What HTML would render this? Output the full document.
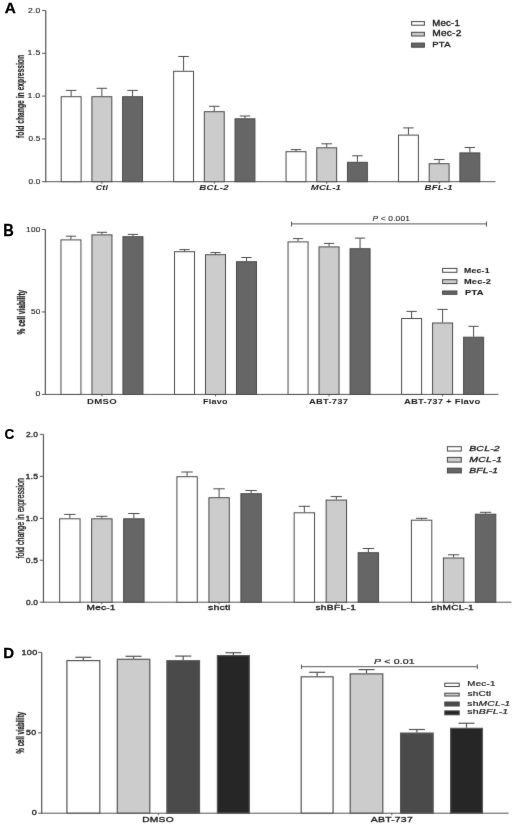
<!DOCTYPE html>
<html><head><meta charset="utf-8"><style>
html,body{margin:0;padding:0;background:#fff;}
svg{display:block;will-change:transform;}
text{font-family:"Liberation Sans",sans-serif;}
</style></head><body>
<svg width="520" height="830" viewBox="0 0 520 830">
<defs><filter id="soft" color-interpolation-filters="sRGB" filterUnits="userSpaceOnUse" x="0" y="0" width="520" height="830"><feConvolveMatrix order="3" kernelMatrix="1 12 1 12 144 12 1 12 1" divisor="196" edgeMode="duplicate"/></filter></defs>
<g>
<rect x="0" y="0" width="520" height="830" fill="#fff"/>
<line x1="45.75" y1="10.50" x2="45.75" y2="182.20" stroke="#555" stroke-width="1.2"/>
<line x1="42.05" y1="181.70" x2="45.75" y2="181.70" stroke="#555" stroke-width="1"/>
<text transform="translate(28.40,184.00) scale(1.1962510668979207,1)" x="0" y="0" font-size="6.91" font-weight="normal" font-style="normal" fill="#1a1a1a" stroke="#1a1a1a" stroke-width="0.12" textLength="9.90" lengthAdjust="spacing">0.0</text>
<line x1="42.05" y1="138.90" x2="45.75" y2="138.90" stroke="#555" stroke-width="1"/>
<text transform="translate(28.40,141.00) scale(1.194973780457581,1)" x="0" y="0" font-size="6.91" font-weight="normal" font-style="normal" fill="#1a1a1a" stroke="#1a1a1a" stroke-width="0.12" textLength="9.90" lengthAdjust="spacing">0.5</text>
<line x1="42.05" y1="96.10" x2="45.75" y2="96.10" stroke="#555" stroke-width="1"/>
<text transform="translate(27.47,98.00) scale(1.27,1)" x="0" y="0" font-size="6.91" font-weight="normal" font-style="normal" fill="#1a1a1a" stroke="#1a1a1a" stroke-width="0.12" textLength="10.07" lengthAdjust="spacing">1.0</text>
<line x1="42.05" y1="53.30" x2="45.75" y2="53.30" stroke="#555" stroke-width="1"/>
<text transform="translate(27.47,55.00) scale(1.27,1)" x="0" y="0" font-size="6.91" font-weight="normal" font-style="normal" fill="#1a1a1a" stroke="#1a1a1a" stroke-width="0.12" textLength="10.09" lengthAdjust="spacing">1.5</text>
<line x1="42.05" y1="10.50" x2="45.75" y2="10.50" stroke="#555" stroke-width="1"/>
<text transform="translate(28.04,13.00) scale(1.2388502618621602,1)" x="0" y="0" font-size="6.91" font-weight="normal" font-style="normal" fill="#1a1a1a" stroke="#1a1a1a" stroke-width="0.12" textLength="9.90" lengthAdjust="spacing">2.0</text>
<line x1="45.75" y1="181.70" x2="495.50" y2="181.70" stroke="#555" stroke-width="1"/>
<text transform="translate(24.40,137.98) rotate(-90)" x="0" y="0" font-size="10.41" font-weight="bold" fill="#1a1a1a" stroke="#1a1a1a" stroke-width="0.15" textLength="83.07" lengthAdjust="spacingAndGlyphs">fold change in expression</text>
<line x1="101.85" y1="181.70" x2="101.85" y2="183.70" stroke="#555" stroke-width="1"/>
<rect x="61.20" y="96.70" width="19.90" height="85.00" fill="#ffffff" stroke="#4a4a4a" stroke-width="1"/>
<line x1="71.15" y1="90.40" x2="71.15" y2="96.20" stroke="#4a4a4a" stroke-width="1"/>
<line x1="65.90" y1="90.40" x2="76.40" y2="90.40" stroke="#4a4a4a" stroke-width="1"/>
<rect x="91.90" y="96.70" width="19.90" height="85.00" fill="#cccccc" stroke="#4a4a4a" stroke-width="1"/>
<line x1="101.85" y1="88.30" x2="101.85" y2="96.20" stroke="#4a4a4a" stroke-width="1"/>
<line x1="96.60" y1="88.30" x2="107.10" y2="88.30" stroke="#4a4a4a" stroke-width="1"/>
<rect x="122.60" y="96.70" width="19.90" height="85.00" fill="#666666" stroke="#4a4a4a" stroke-width="1"/>
<line x1="132.55" y1="90.40" x2="132.55" y2="96.20" stroke="#4a4a4a" stroke-width="1"/>
<line x1="127.30" y1="90.40" x2="137.80" y2="90.40" stroke="#4a4a4a" stroke-width="1"/>
<line x1="214.28" y1="181.70" x2="214.28" y2="183.70" stroke="#555" stroke-width="1"/>
<rect x="173.63" y="71.30" width="19.90" height="110.40" fill="#ffffff" stroke="#4a4a4a" stroke-width="1"/>
<line x1="183.58" y1="56.50" x2="183.58" y2="70.80" stroke="#4a4a4a" stroke-width="1"/>
<line x1="178.33" y1="56.50" x2="188.83" y2="56.50" stroke="#4a4a4a" stroke-width="1"/>
<rect x="204.33" y="111.70" width="19.90" height="70.00" fill="#cccccc" stroke="#4a4a4a" stroke-width="1"/>
<line x1="214.28" y1="106.30" x2="214.28" y2="111.20" stroke="#4a4a4a" stroke-width="1"/>
<line x1="209.03" y1="106.30" x2="219.53" y2="106.30" stroke="#4a4a4a" stroke-width="1"/>
<rect x="235.03" y="118.80" width="19.90" height="62.90" fill="#666666" stroke="#4a4a4a" stroke-width="1"/>
<line x1="244.98" y1="116.00" x2="244.98" y2="118.30" stroke="#4a4a4a" stroke-width="1"/>
<line x1="239.73" y1="116.00" x2="250.23" y2="116.00" stroke="#4a4a4a" stroke-width="1"/>
<line x1="326.71" y1="181.70" x2="326.71" y2="183.70" stroke="#555" stroke-width="1"/>
<rect x="286.06" y="151.70" width="19.90" height="30.00" fill="#ffffff" stroke="#4a4a4a" stroke-width="1"/>
<line x1="296.01" y1="149.60" x2="296.01" y2="151.20" stroke="#4a4a4a" stroke-width="1"/>
<line x1="290.76" y1="149.60" x2="301.26" y2="149.60" stroke="#4a4a4a" stroke-width="1"/>
<rect x="316.76" y="147.80" width="19.90" height="33.90" fill="#cccccc" stroke="#4a4a4a" stroke-width="1"/>
<line x1="326.71" y1="143.80" x2="326.71" y2="147.30" stroke="#4a4a4a" stroke-width="1"/>
<line x1="321.46" y1="143.80" x2="331.96" y2="143.80" stroke="#4a4a4a" stroke-width="1"/>
<rect x="347.46" y="162.30" width="19.90" height="19.40" fill="#666666" stroke="#4a4a4a" stroke-width="1"/>
<line x1="357.41" y1="155.80" x2="357.41" y2="161.80" stroke="#4a4a4a" stroke-width="1"/>
<line x1="352.16" y1="155.80" x2="362.66" y2="155.80" stroke="#4a4a4a" stroke-width="1"/>
<line x1="439.14" y1="181.70" x2="439.14" y2="183.70" stroke="#555" stroke-width="1"/>
<rect x="398.49" y="135.10" width="19.90" height="46.60" fill="#ffffff" stroke="#4a4a4a" stroke-width="1"/>
<line x1="408.44" y1="127.90" x2="408.44" y2="134.60" stroke="#4a4a4a" stroke-width="1"/>
<line x1="403.19" y1="127.90" x2="413.69" y2="127.90" stroke="#4a4a4a" stroke-width="1"/>
<rect x="429.19" y="163.70" width="19.90" height="18.00" fill="#cccccc" stroke="#4a4a4a" stroke-width="1"/>
<line x1="439.14" y1="159.50" x2="439.14" y2="163.20" stroke="#4a4a4a" stroke-width="1"/>
<line x1="433.89" y1="159.50" x2="444.39" y2="159.50" stroke="#4a4a4a" stroke-width="1"/>
<rect x="459.89" y="152.90" width="19.90" height="28.80" fill="#666666" stroke="#4a4a4a" stroke-width="1"/>
<line x1="469.84" y1="147.50" x2="469.84" y2="152.40" stroke="#4a4a4a" stroke-width="1"/>
<line x1="464.59" y1="147.50" x2="475.09" y2="147.50" stroke="#4a4a4a" stroke-width="1"/>
<text transform="translate(95.79,190.00) scale(1.1247718291206472,1)" x="0" y="0" font-size="7.79" font-weight="bold" font-style="italic" fill="#1a1a1a" textLength="10.71" lengthAdjust="spacing">Ctl</text>
<text transform="translate(199.31,190.00) scale(1.2432002610410082,1)" x="0" y="0" font-size="7.79" font-weight="bold" font-style="italic" fill="#1a1a1a" textLength="23.66" lengthAdjust="spacing">BCL-2</text>
<text transform="translate(310.83,190.00) scale(1.2253199621532747,1)" x="0" y="0" font-size="7.79" font-weight="bold" font-style="italic" fill="#1a1a1a" textLength="24.55" lengthAdjust="spacing">MCL-1</text>
<text transform="translate(424.55,190.00) scale(1.2333608973604981,1)" x="0" y="0" font-size="7.79" font-weight="bold" font-style="italic" fill="#1a1a1a" textLength="22.76" lengthAdjust="spacing">BFL-1</text>
<rect x="411.60" y="21.60" width="12.80" height="3.60" fill="#ffffff" stroke="#444" stroke-width="1"/>
<text transform="translate(432.24,26.00) scale(1.1667141374728638,1)" x="0" y="0" font-size="8.24" font-weight="normal" font-style="normal" fill="#1a1a1a" stroke="#1a1a1a" stroke-width="0.35" textLength="23.59" lengthAdjust="spacing">Mec-1</text>
<rect x="411.60" y="32.30" width="12.80" height="3.70" fill="#cccccc" stroke="#444" stroke-width="1"/>
<text transform="translate(432.22,36.00) scale(1.1942400554222876,1)" x="0" y="0" font-size="8.53" font-weight="normal" font-style="normal" fill="#1a1a1a" stroke="#1a1a1a" stroke-width="0.35" textLength="24.43" lengthAdjust="spacing">Mec-2</text>
<rect x="411.60" y="43.10" width="12.80" height="4.10" fill="#666666" stroke="#444" stroke-width="1"/>
<text transform="translate(432.28,47.00) scale(1.1734466541080952,1)" x="0" y="0" font-size="8.09" font-weight="normal" font-style="normal" fill="#1a1a1a" stroke="#1a1a1a" stroke-width="0.35" textLength="15.60" lengthAdjust="spacing">PTA</text>
<line x1="45.35" y1="229.50" x2="45.35" y2="394.90" stroke="#555" stroke-width="1.2"/>
<line x1="41.85" y1="394.40" x2="45.35" y2="394.40" stroke="#555" stroke-width="1"/>
<text transform="translate(35.40,396.00) scale(1.3,1)" x="0" y="0" font-size="6.76" font-weight="normal" font-style="normal" fill="#1a1a1a" stroke="#1a1a1a" stroke-width="0.12" textLength="3.90" lengthAdjust="spacing">0</text>
<line x1="41.85" y1="311.95" x2="45.35" y2="311.95" stroke="#555" stroke-width="1"/>
<text transform="translate(30.96,314.00) scale(1.2101151723352197,1)" x="0" y="0" font-size="6.76" font-weight="normal" font-style="normal" fill="#1a1a1a" stroke="#1a1a1a" stroke-width="0.12" textLength="7.76" lengthAdjust="spacing">50</text>
<line x1="41.85" y1="229.50" x2="45.35" y2="229.50" stroke="#555" stroke-width="1"/>
<text transform="translate(26.11,232.00) scale(1.2238604264922375,1)" x="0" y="0" font-size="6.76" font-weight="normal" font-style="normal" fill="#1a1a1a" stroke="#1a1a1a" stroke-width="0.12" textLength="11.63" lengthAdjust="spacing">100</text>
<line x1="45.35" y1="394.40" x2="498.40" y2="394.40" stroke="#555" stroke-width="1"/>
<text transform="translate(25.00,334.49) rotate(-90)" x="0" y="0" font-size="11.62" font-weight="bold" fill="#1a1a1a" stroke="#1a1a1a" stroke-width="0.3" textLength="44.71" lengthAdjust="spacingAndGlyphs">% cell viability</text>
<line x1="101.95" y1="394.40" x2="101.95" y2="396.40" stroke="#555" stroke-width="1"/>
<rect x="60.95" y="239.90" width="20.00" height="154.50" fill="#ffffff" stroke="#4a4a4a" stroke-width="1"/>
<line x1="70.95" y1="236.20" x2="70.95" y2="239.40" stroke="#4a4a4a" stroke-width="1"/>
<line x1="65.80" y1="236.20" x2="76.10" y2="236.20" stroke="#4a4a4a" stroke-width="1"/>
<rect x="91.95" y="234.90" width="20.00" height="159.50" fill="#cccccc" stroke="#4a4a4a" stroke-width="1"/>
<line x1="101.95" y1="232.30" x2="101.95" y2="234.40" stroke="#4a4a4a" stroke-width="1"/>
<line x1="96.80" y1="232.30" x2="107.10" y2="232.30" stroke="#4a4a4a" stroke-width="1"/>
<rect x="122.95" y="236.70" width="20.00" height="157.70" fill="#666666" stroke="#4a4a4a" stroke-width="1"/>
<line x1="132.95" y1="234.40" x2="132.95" y2="236.20" stroke="#4a4a4a" stroke-width="1"/>
<line x1="127.80" y1="234.40" x2="138.10" y2="234.40" stroke="#4a4a4a" stroke-width="1"/>
<line x1="215.50" y1="394.40" x2="215.50" y2="396.40" stroke="#555" stroke-width="1"/>
<rect x="174.50" y="251.70" width="20.00" height="142.70" fill="#ffffff" stroke="#4a4a4a" stroke-width="1"/>
<line x1="184.50" y1="249.60" x2="184.50" y2="251.20" stroke="#4a4a4a" stroke-width="1"/>
<line x1="179.35" y1="249.60" x2="189.65" y2="249.60" stroke="#4a4a4a" stroke-width="1"/>
<rect x="205.50" y="254.70" width="20.00" height="139.70" fill="#cccccc" stroke="#4a4a4a" stroke-width="1"/>
<line x1="215.50" y1="252.60" x2="215.50" y2="254.20" stroke="#4a4a4a" stroke-width="1"/>
<line x1="210.35" y1="252.60" x2="220.65" y2="252.60" stroke="#4a4a4a" stroke-width="1"/>
<rect x="236.50" y="261.70" width="20.00" height="132.70" fill="#666666" stroke="#4a4a4a" stroke-width="1"/>
<line x1="246.50" y1="257.50" x2="246.50" y2="261.20" stroke="#4a4a4a" stroke-width="1"/>
<line x1="241.35" y1="257.50" x2="251.65" y2="257.50" stroke="#4a4a4a" stroke-width="1"/>
<line x1="329.05" y1="394.40" x2="329.05" y2="396.40" stroke="#555" stroke-width="1"/>
<rect x="288.05" y="241.90" width="20.00" height="152.50" fill="#ffffff" stroke="#4a4a4a" stroke-width="1"/>
<line x1="298.05" y1="238.60" x2="298.05" y2="241.40" stroke="#4a4a4a" stroke-width="1"/>
<line x1="292.90" y1="238.60" x2="303.20" y2="238.60" stroke="#4a4a4a" stroke-width="1"/>
<rect x="319.05" y="246.90" width="20.00" height="147.50" fill="#cccccc" stroke="#4a4a4a" stroke-width="1"/>
<line x1="329.05" y1="243.40" x2="329.05" y2="246.40" stroke="#4a4a4a" stroke-width="1"/>
<line x1="323.90" y1="243.40" x2="334.20" y2="243.40" stroke="#4a4a4a" stroke-width="1"/>
<rect x="350.05" y="248.70" width="20.00" height="145.70" fill="#666666" stroke="#4a4a4a" stroke-width="1"/>
<line x1="360.05" y1="238.10" x2="360.05" y2="248.20" stroke="#4a4a4a" stroke-width="1"/>
<line x1="354.90" y1="238.10" x2="365.20" y2="238.10" stroke="#4a4a4a" stroke-width="1"/>
<line x1="442.60" y1="394.40" x2="442.60" y2="396.40" stroke="#555" stroke-width="1"/>
<rect x="401.60" y="318.50" width="20.00" height="75.90" fill="#ffffff" stroke="#4a4a4a" stroke-width="1"/>
<line x1="411.60" y1="311.40" x2="411.60" y2="318.00" stroke="#4a4a4a" stroke-width="1"/>
<line x1="406.45" y1="311.40" x2="416.75" y2="311.40" stroke="#4a4a4a" stroke-width="1"/>
<rect x="432.60" y="323.00" width="20.00" height="71.40" fill="#cccccc" stroke="#4a4a4a" stroke-width="1"/>
<line x1="442.60" y1="309.40" x2="442.60" y2="322.50" stroke="#4a4a4a" stroke-width="1"/>
<line x1="437.45" y1="309.40" x2="447.75" y2="309.40" stroke="#4a4a4a" stroke-width="1"/>
<rect x="463.60" y="337.20" width="20.00" height="57.20" fill="#666666" stroke="#4a4a4a" stroke-width="1"/>
<line x1="473.60" y1="326.30" x2="473.60" y2="336.70" stroke="#4a4a4a" stroke-width="1"/>
<line x1="468.45" y1="326.30" x2="478.75" y2="326.30" stroke="#4a4a4a" stroke-width="1"/>
<text transform="translate(87.04,404.00) scale(1.284340341459083,1)" x="0" y="0" font-size="7.50" font-weight="bold" font-style="normal" fill="#1a1a1a" textLength="23.20" lengthAdjust="spacing">DMSO</text>
<text transform="translate(203.09,404.00) scale(1.2063806370638757,1)" x="0" y="0" font-size="7.50" font-weight="bold" font-style="normal" fill="#1a1a1a" textLength="20.19" lengthAdjust="spacing">Flavo</text>
<text transform="translate(309.08,404.00) scale(1.25950669170468,1)" x="0" y="0" font-size="7.50" font-weight="bold" font-style="normal" fill="#1a1a1a" textLength="30.94" lengthAdjust="spacing">ABT-737</text>
<text transform="translate(404.02,404.00) scale(1.2714292205431312,1)" x="0" y="0" font-size="7.50" font-weight="bold" font-style="normal" fill="#1a1a1a" textLength="59.94" lengthAdjust="spacing">ABT-737 + Flavo</text>
<line x1="291.50" y1="223.90" x2="486.50" y2="223.90" stroke="#555" stroke-width="1"/>
<line x1="291.50" y1="221.50" x2="291.50" y2="226.50" stroke="#555" stroke-width="1"/>
<line x1="486.50" y1="221.50" x2="486.50" y2="226.50" stroke="#555" stroke-width="1"/>
<text transform="translate(372.54,221.00) scale(1.3,1)" x="0" y="0" font-size="6.47" font-weight="normal" font-style="normal" fill="#1a1a1a" stroke="#1a1a1a" stroke-width="0.08" textLength="28.76" lengthAdjust="spacing"><tspan font-style="italic">P</tspan> &lt; 0.001</text>
<rect x="442.60" y="268.40" width="14.30" height="3.90" fill="#ffffff" stroke="#444" stroke-width="1"/>
<text transform="translate(464.04,273.00) scale(1.1429430510156031,1)" x="0" y="0" font-size="7.65" font-weight="bold" font-style="normal" fill="#1a1a1a" stroke="#1a1a1a" stroke-width="0.1" textLength="22.34" lengthAdjust="spacing">Mec-1</text>
<rect x="442.60" y="279.70" width="14.30" height="3.90" fill="#cccccc" stroke="#444" stroke-width="1"/>
<text transform="translate(463.96,284.00) scale(1.1660962039658576,1)" x="0" y="0" font-size="7.94" font-weight="bold" font-style="normal" fill="#1a1a1a" stroke="#1a1a1a" stroke-width="0.1" textLength="23.20" lengthAdjust="spacing">Mec-2</text>
<rect x="442.60" y="291.00" width="14.30" height="3.30" fill="#666666" stroke="#444" stroke-width="1"/>
<text transform="translate(464.99,295.00) scale(1.2941015260013036,1)" x="0" y="0" font-size="7.21" font-weight="bold" font-style="normal" fill="#1a1a1a" stroke="#1a1a1a" stroke-width="0.1" textLength="14.31" lengthAdjust="spacing">PTA</text>
<line x1="43.45" y1="434.40" x2="43.45" y2="602.70" stroke="#555" stroke-width="1.2"/>
<line x1="39.75" y1="602.20" x2="43.45" y2="602.20" stroke="#555" stroke-width="1"/>
<text transform="translate(25.88,605.00) scale(1.1440077684787517,1)" x="0" y="0" font-size="7.35" font-weight="normal" font-style="normal" fill="#1a1a1a" stroke="#1a1a1a" stroke-width="0.3" textLength="10.54" lengthAdjust="spacing">0.0</text>
<line x1="39.75" y1="560.25" x2="43.45" y2="560.25" stroke="#555" stroke-width="1"/>
<text transform="translate(25.86,563.00) scale(1.158097668483546,1)" x="0" y="0" font-size="7.35" font-weight="normal" font-style="normal" fill="#1a1a1a" stroke="#1a1a1a" stroke-width="0.3" textLength="10.54" lengthAdjust="spacing">0.5</text>
<line x1="39.75" y1="518.30" x2="43.45" y2="518.30" stroke="#555" stroke-width="1"/>
<text transform="translate(25.43,521.00) scale(1.1932063435191795,1)" x="0" y="0" font-size="7.35" font-weight="normal" font-style="normal" fill="#1a1a1a" stroke="#1a1a1a" stroke-width="0.3" textLength="10.54" lengthAdjust="spacing">1.0</text>
<line x1="39.75" y1="476.35" x2="43.45" y2="476.35" stroke="#555" stroke-width="1"/>
<text transform="translate(25.42,479.00) scale(1.2009247286086981,1)" x="0" y="0" font-size="7.35" font-weight="normal" font-style="normal" fill="#1a1a1a" stroke="#1a1a1a" stroke-width="0.3" textLength="10.54" lengthAdjust="spacing">1.5</text>
<line x1="39.75" y1="434.40" x2="43.45" y2="434.40" stroke="#555" stroke-width="1"/>
<text transform="translate(25.88,437.00) scale(1.1405157109559187,1)" x="0" y="0" font-size="7.35" font-weight="normal" font-style="normal" fill="#1a1a1a" stroke="#1a1a1a" stroke-width="0.3" textLength="10.54" lengthAdjust="spacing">2.0</text>
<line x1="43.45" y1="602.20" x2="511.50" y2="602.20" stroke="#555" stroke-width="1"/>
<text transform="translate(24.30,558.54) rotate(-90)" x="0" y="0" font-size="10.41" font-weight="normal" fill="#1a1a1a" stroke="#1a1a1a" stroke-width="0.35" textLength="80.55" lengthAdjust="spacingAndGlyphs">fold change in expression</text>
<line x1="101.85" y1="602.20" x2="101.85" y2="604.20" stroke="#555" stroke-width="1"/>
<rect x="59.65" y="518.80" width="20.40" height="83.40" fill="#ffffff" stroke="#4a4a4a" stroke-width="1"/>
<line x1="69.85" y1="514.40" x2="69.85" y2="518.30" stroke="#4a4a4a" stroke-width="1"/>
<line x1="64.20" y1="514.40" x2="75.50" y2="514.40" stroke="#4a4a4a" stroke-width="1"/>
<rect x="91.65" y="518.80" width="20.40" height="83.40" fill="#cccccc" stroke="#4a4a4a" stroke-width="1"/>
<line x1="101.85" y1="516.30" x2="101.85" y2="518.30" stroke="#4a4a4a" stroke-width="1"/>
<line x1="96.20" y1="516.30" x2="107.50" y2="516.30" stroke="#4a4a4a" stroke-width="1"/>
<rect x="123.65" y="518.80" width="20.40" height="83.40" fill="#666666" stroke="#4a4a4a" stroke-width="1"/>
<line x1="133.85" y1="513.50" x2="133.85" y2="518.30" stroke="#4a4a4a" stroke-width="1"/>
<line x1="128.20" y1="513.50" x2="139.50" y2="513.50" stroke="#4a4a4a" stroke-width="1"/>
<line x1="219.10" y1="602.20" x2="219.10" y2="604.20" stroke="#555" stroke-width="1"/>
<rect x="176.90" y="476.70" width="20.40" height="125.50" fill="#ffffff" stroke="#4a4a4a" stroke-width="1"/>
<line x1="187.10" y1="472.00" x2="187.10" y2="476.20" stroke="#4a4a4a" stroke-width="1"/>
<line x1="181.45" y1="472.00" x2="192.75" y2="472.00" stroke="#4a4a4a" stroke-width="1"/>
<rect x="208.90" y="497.70" width="20.40" height="104.50" fill="#cccccc" stroke="#4a4a4a" stroke-width="1"/>
<line x1="219.10" y1="488.80" x2="219.10" y2="497.20" stroke="#4a4a4a" stroke-width="1"/>
<line x1="213.45" y1="488.80" x2="224.75" y2="488.80" stroke="#4a4a4a" stroke-width="1"/>
<rect x="240.90" y="493.70" width="20.40" height="108.50" fill="#666666" stroke="#4a4a4a" stroke-width="1"/>
<line x1="251.10" y1="490.50" x2="251.10" y2="493.20" stroke="#4a4a4a" stroke-width="1"/>
<line x1="245.45" y1="490.50" x2="256.75" y2="490.50" stroke="#4a4a4a" stroke-width="1"/>
<line x1="336.35" y1="602.20" x2="336.35" y2="604.20" stroke="#555" stroke-width="1"/>
<rect x="294.15" y="512.80" width="20.40" height="89.40" fill="#ffffff" stroke="#4a4a4a" stroke-width="1"/>
<line x1="304.35" y1="506.30" x2="304.35" y2="512.30" stroke="#4a4a4a" stroke-width="1"/>
<line x1="298.70" y1="506.30" x2="310.00" y2="506.30" stroke="#4a4a4a" stroke-width="1"/>
<rect x="326.15" y="500.10" width="20.40" height="102.10" fill="#cccccc" stroke="#4a4a4a" stroke-width="1"/>
<line x1="336.35" y1="496.60" x2="336.35" y2="499.60" stroke="#4a4a4a" stroke-width="1"/>
<line x1="330.70" y1="496.60" x2="342.00" y2="496.60" stroke="#4a4a4a" stroke-width="1"/>
<rect x="358.15" y="552.70" width="20.40" height="49.50" fill="#666666" stroke="#4a4a4a" stroke-width="1"/>
<line x1="368.35" y1="548.50" x2="368.35" y2="552.20" stroke="#4a4a4a" stroke-width="1"/>
<line x1="362.70" y1="548.50" x2="374.00" y2="548.50" stroke="#4a4a4a" stroke-width="1"/>
<line x1="453.60" y1="602.20" x2="453.60" y2="604.20" stroke="#555" stroke-width="1"/>
<rect x="411.40" y="520.20" width="20.40" height="82.00" fill="#ffffff" stroke="#4a4a4a" stroke-width="1"/>
<line x1="421.60" y1="518.30" x2="421.60" y2="519.70" stroke="#4a4a4a" stroke-width="1"/>
<line x1="415.95" y1="518.30" x2="427.25" y2="518.30" stroke="#4a4a4a" stroke-width="1"/>
<rect x="443.40" y="558.00" width="20.40" height="44.20" fill="#cccccc" stroke="#4a4a4a" stroke-width="1"/>
<line x1="453.60" y1="554.80" x2="453.60" y2="557.50" stroke="#4a4a4a" stroke-width="1"/>
<line x1="447.95" y1="554.80" x2="459.25" y2="554.80" stroke="#4a4a4a" stroke-width="1"/>
<rect x="475.40" y="514.20" width="20.40" height="88.00" fill="#666666" stroke="#4a4a4a" stroke-width="1"/>
<line x1="485.60" y1="512.30" x2="485.60" y2="513.70" stroke="#4a4a4a" stroke-width="1"/>
<line x1="479.95" y1="512.30" x2="491.25" y2="512.30" stroke="#4a4a4a" stroke-width="1"/>
<text transform="translate(86.58,610.00) scale(1.4290039630961064,1)" x="0" y="0" font-size="7.06" font-weight="normal" font-style="normal" fill="#1a1a1a" stroke="#1a1a1a" stroke-width="0.3" textLength="20.22" lengthAdjust="spacing">Mec-1</text>
<text transform="translate(207.93,610.00) scale(1.4407370685405239,1)" x="0" y="0" font-size="7.35" font-weight="normal" font-style="normal" fill="#1a1a1a" stroke="#1a1a1a" stroke-width="0.3" textLength="15.59" lengthAdjust="spacing">shctl</text>
<text transform="translate(315.45,610.00) scale(1.5,1)" x="0" y="0" font-size="6.76" font-weight="normal" font-style="normal" fill="#1a1a1a" stroke="#1a1a1a" stroke-width="0.3" textLength="27.00" lengthAdjust="spacing">shBFL-1</text>
<text transform="translate(431.45,610.00) scale(1.4960327414465466,1)" x="0" y="0" font-size="6.76" font-weight="normal" font-style="normal" fill="#1a1a1a" stroke="#1a1a1a" stroke-width="0.3" textLength="28.29" lengthAdjust="spacing">shMCL-1</text>
<rect x="447.40" y="446.70" width="13.90" height="4.30" fill="#ffffff" stroke="#444" stroke-width="1"/>
<text transform="translate(469.19,451.00) scale(1.3650637400047045,1)" x="0" y="0" font-size="7.65" font-weight="normal" font-style="italic" fill="#1a1a1a" stroke="#1a1a1a" stroke-width="0.3" textLength="22.34" lengthAdjust="spacing">BCL-2</text>
<rect x="447.40" y="457.40" width="13.90" height="4.70" fill="#cccccc" stroke="#444" stroke-width="1"/>
<text transform="translate(469.20,462.00) scale(1.3765759746017707,1)" x="0" y="0" font-size="7.65" font-weight="normal" font-style="italic" fill="#1a1a1a" stroke="#1a1a1a" stroke-width="0.3" textLength="23.65" lengthAdjust="spacing">MCL-1</text>
<rect x="447.40" y="468.20" width="13.90" height="4.70" fill="#666666" stroke="#444" stroke-width="1"/>
<text transform="translate(469.24,473.00) scale(1.344108059514823,1)" x="0" y="0" font-size="7.65" font-weight="normal" font-style="italic" fill="#1a1a1a" stroke="#1a1a1a" stroke-width="0.3" textLength="21.47" lengthAdjust="spacing">BFL-1</text>
<line x1="41.70" y1="652.40" x2="41.70" y2="813.70" stroke="#555" stroke-width="1.2"/>
<line x1="38.20" y1="813.20" x2="41.70" y2="813.20" stroke="#555" stroke-width="1"/>
<text transform="translate(31.65,815.00) scale(1.25,1)" x="0" y="0" font-size="7.28" font-weight="normal" font-style="normal" fill="#1a1a1a" stroke="#1a1a1a" stroke-width="0.3" textLength="6.62" lengthAdjust="spacing">0</text>
<line x1="38.20" y1="732.80" x2="41.70" y2="732.80" stroke="#555" stroke-width="1"/>
<text transform="translate(25.93,735.00) scale(1.2157799153596716,1)" x="0" y="0" font-size="7.28" font-weight="normal" font-style="normal" fill="#1a1a1a" stroke="#1a1a1a" stroke-width="0.3" textLength="8.35" lengthAdjust="spacing">50</text>
<line x1="38.20" y1="652.40" x2="41.70" y2="652.40" stroke="#555" stroke-width="1"/>
<text transform="translate(21.46,655.00) scale(1.25,1)" x="0" y="0" font-size="7.28" font-weight="normal" font-style="normal" fill="#1a1a1a" stroke="#1a1a1a" stroke-width="0.3" textLength="12.66" lengthAdjust="spacing">100</text>
<line x1="41.70" y1="813.20" x2="508.50" y2="813.20" stroke="#555" stroke-width="1"/>
<text transform="translate(23.60,753.39) rotate(-90)" x="0" y="0" font-size="11.76" font-weight="bold" fill="#1a1a1a" stroke="#1a1a1a" stroke-width="0.3" textLength="41.50" lengthAdjust="spacingAndGlyphs">% cell viability</text>
<line x1="158.30" y1="813.20" x2="158.30" y2="815.20" stroke="#555" stroke-width="1"/>
<rect x="66.90" y="660.60" width="32.90" height="152.50" fill="#ffffff" stroke="#555" stroke-width="1.2"/>
<line x1="83.35" y1="657.30" x2="83.35" y2="660.00" stroke="#555" stroke-width="1.2"/>
<line x1="75.35" y1="657.30" x2="91.35" y2="657.30" stroke="#555" stroke-width="1.2"/>
<rect x="117.30" y="659.30" width="32.50" height="153.80" fill="#cccccc" stroke="#555" stroke-width="1.2"/>
<line x1="133.55" y1="656.30" x2="133.55" y2="658.70" stroke="#555" stroke-width="1.2"/>
<line x1="125.55" y1="656.30" x2="141.55" y2="656.30" stroke="#555" stroke-width="1.2"/>
<rect x="166.90" y="660.70" width="32.60" height="152.40" fill="#4a4a4a" stroke="#555" stroke-width="1.2"/>
<line x1="183.20" y1="656.10" x2="183.20" y2="660.10" stroke="#555" stroke-width="1.2"/>
<line x1="175.20" y1="656.10" x2="191.20" y2="656.10" stroke="#555" stroke-width="1.2"/>
<rect x="217.40" y="655.60" width="31.90" height="157.50" fill="#262626" stroke="#555" stroke-width="1.2"/>
<line x1="233.35" y1="652.70" x2="233.35" y2="655.00" stroke="#555" stroke-width="1.2"/>
<line x1="225.35" y1="652.70" x2="241.35" y2="652.70" stroke="#555" stroke-width="1.2"/>
<line x1="391.80" y1="813.20" x2="391.80" y2="815.20" stroke="#555" stroke-width="1"/>
<rect x="301.20" y="676.80" width="31.90" height="136.30" fill="#ffffff" stroke="#555" stroke-width="1.2"/>
<line x1="317.15" y1="672.30" x2="317.15" y2="676.20" stroke="#555" stroke-width="1.2"/>
<line x1="309.15" y1="672.30" x2="325.15" y2="672.30" stroke="#555" stroke-width="1.2"/>
<rect x="350.20" y="673.90" width="32.60" height="139.20" fill="#cccccc" stroke="#555" stroke-width="1.2"/>
<line x1="366.50" y1="669.60" x2="366.50" y2="673.30" stroke="#555" stroke-width="1.2"/>
<line x1="358.50" y1="669.60" x2="374.50" y2="669.60" stroke="#555" stroke-width="1.2"/>
<rect x="400.60" y="733.10" width="32.55" height="80.00" fill="#4a4a4a" stroke="#555" stroke-width="1.2"/>
<line x1="416.88" y1="729.50" x2="416.88" y2="732.50" stroke="#555" stroke-width="1.2"/>
<line x1="408.88" y1="729.50" x2="424.88" y2="729.50" stroke="#555" stroke-width="1.2"/>
<rect x="450.60" y="728.35" width="31.80" height="84.75" fill="#262626" stroke="#555" stroke-width="1.2"/>
<line x1="466.50" y1="723.25" x2="466.50" y2="727.75" stroke="#555" stroke-width="1.2"/>
<line x1="458.50" y1="723.25" x2="474.50" y2="723.25" stroke="#555" stroke-width="1.2"/>
<text transform="translate(142.13,822.00) scale(1.4761045100168997,1)" x="0" y="0" font-size="6.91" font-weight="normal" font-style="normal" fill="#1a1a1a" stroke="#1a1a1a" stroke-width="0.3" textLength="21.38" lengthAdjust="spacing">DMSO</text>
<text transform="translate(370.79,822.00) scale(1.3946498699652912,1)" x="0" y="0" font-size="7.50" font-weight="normal" font-style="normal" fill="#1a1a1a" stroke="#1a1a1a" stroke-width="0.3" textLength="30.08" lengthAdjust="spacing">ABT-737</text>
<line x1="301.50" y1="666.70" x2="477.30" y2="666.70" stroke="#555" stroke-width="1"/>
<line x1="301.50" y1="664.50" x2="301.50" y2="669.00" stroke="#555" stroke-width="1"/>
<line x1="477.30" y1="664.30" x2="477.30" y2="669.00" stroke="#555" stroke-width="1"/>
<text transform="translate(374.08,664.00) scale(1.4367899286385726,1)" x="0" y="0" font-size="7.35" font-weight="normal" font-style="normal" fill="#1a1a1a" stroke="#1a1a1a" stroke-width="0.2" textLength="28.31" lengthAdjust="spacing"><tspan font-style="italic">P</tspan> &lt; 0.01</text>
<rect x="444.80" y="683.20" width="14.40" height="3.30" fill="#ffffff" stroke="#444" stroke-width="1"/>
<text transform="translate(467.27,686.00) scale(1.3372461142270071,1)" x="0" y="0" font-size="7.35" font-weight="normal" font-style="normal" fill="#1a1a1a" stroke="#1a1a1a" stroke-width="0.2" textLength="21.06" lengthAdjust="spacing">Mec-1</text>
<rect x="444.80" y="693.20" width="14.40" height="2.80" fill="#cccccc" stroke="#444" stroke-width="1"/>
<text transform="translate(467.42,696.00) scale(1.3997452604667515,1)" x="0" y="0" font-size="7.21" font-weight="normal" font-style="normal" fill="#1a1a1a" stroke="#1a1a1a" stroke-width="0.2" textLength="16.92" lengthAdjust="spacing">shCtl</text>
<rect x="444.80" y="702.00" width="14.40" height="4.00" fill="#4a4a4a" stroke="#444" stroke-width="1"/>
<text transform="translate(467.34,706.00) scale(1.4554359738420333,1)" x="0" y="0" font-size="7.06" font-weight="normal" font-style="normal" fill="#1a1a1a" stroke="#1a1a1a" stroke-width="0.2" textLength="29.52" lengthAdjust="spacing">sh<tspan font-style="italic">MCL-1</tspan></text>
<rect x="444.80" y="710.90" width="14.40" height="3.90" fill="#262626" stroke="#444" stroke-width="1"/>
<text transform="translate(467.32,714.00) scale(1.4878218791897742,1)" x="0" y="0" font-size="7.06" font-weight="normal" font-style="normal" fill="#1a1a1a" stroke="#1a1a1a" stroke-width="0.2" textLength="27.50" lengthAdjust="spacing">sh<tspan font-style="italic">BFL-1</tspan></text>
</g>
<g filter="url(#soft)">
<rect x="0" y="0" width="520" height="830" fill="#fff"/>
<line x1="45.75" y1="10.50" x2="45.75" y2="182.20" stroke="#555" stroke-width="1.2"/>
<line x1="42.05" y1="181.70" x2="45.75" y2="181.70" stroke="#555" stroke-width="1"/>
<text transform="translate(28.40,184.00) scale(1.1962510668979207,1)" x="0" y="0" font-size="6.91" font-weight="normal" font-style="normal" fill="#1a1a1a" stroke="#1a1a1a" stroke-width="0.12" textLength="9.90" lengthAdjust="spacing">0.0</text>
<line x1="42.05" y1="138.90" x2="45.75" y2="138.90" stroke="#555" stroke-width="1"/>
<text transform="translate(28.40,141.00) scale(1.194973780457581,1)" x="0" y="0" font-size="6.91" font-weight="normal" font-style="normal" fill="#1a1a1a" stroke="#1a1a1a" stroke-width="0.12" textLength="9.90" lengthAdjust="spacing">0.5</text>
<line x1="42.05" y1="96.10" x2="45.75" y2="96.10" stroke="#555" stroke-width="1"/>
<text transform="translate(27.47,98.00) scale(1.27,1)" x="0" y="0" font-size="6.91" font-weight="normal" font-style="normal" fill="#1a1a1a" stroke="#1a1a1a" stroke-width="0.12" textLength="10.07" lengthAdjust="spacing">1.0</text>
<line x1="42.05" y1="53.30" x2="45.75" y2="53.30" stroke="#555" stroke-width="1"/>
<text transform="translate(27.47,55.00) scale(1.27,1)" x="0" y="0" font-size="6.91" font-weight="normal" font-style="normal" fill="#1a1a1a" stroke="#1a1a1a" stroke-width="0.12" textLength="10.09" lengthAdjust="spacing">1.5</text>
<line x1="42.05" y1="10.50" x2="45.75" y2="10.50" stroke="#555" stroke-width="1"/>
<text transform="translate(28.04,13.00) scale(1.2388502618621602,1)" x="0" y="0" font-size="6.91" font-weight="normal" font-style="normal" fill="#1a1a1a" stroke="#1a1a1a" stroke-width="0.12" textLength="9.90" lengthAdjust="spacing">2.0</text>
<line x1="45.75" y1="181.70" x2="495.50" y2="181.70" stroke="#555" stroke-width="1"/>
<text transform="translate(24.40,137.98) rotate(-90)" x="0" y="0" font-size="10.41" font-weight="bold" fill="#1a1a1a" stroke="#1a1a1a" stroke-width="0.15" textLength="83.07" lengthAdjust="spacingAndGlyphs">fold change in expression</text>
<line x1="101.85" y1="181.70" x2="101.85" y2="183.70" stroke="#555" stroke-width="1"/>
<rect x="61.20" y="96.70" width="19.90" height="85.00" fill="#ffffff" stroke="#4a4a4a" stroke-width="1"/>
<line x1="71.15" y1="90.40" x2="71.15" y2="96.20" stroke="#4a4a4a" stroke-width="1"/>
<line x1="65.90" y1="90.40" x2="76.40" y2="90.40" stroke="#4a4a4a" stroke-width="1"/>
<rect x="91.90" y="96.70" width="19.90" height="85.00" fill="#cccccc" stroke="#4a4a4a" stroke-width="1"/>
<line x1="101.85" y1="88.30" x2="101.85" y2="96.20" stroke="#4a4a4a" stroke-width="1"/>
<line x1="96.60" y1="88.30" x2="107.10" y2="88.30" stroke="#4a4a4a" stroke-width="1"/>
<rect x="122.60" y="96.70" width="19.90" height="85.00" fill="#666666" stroke="#4a4a4a" stroke-width="1"/>
<line x1="132.55" y1="90.40" x2="132.55" y2="96.20" stroke="#4a4a4a" stroke-width="1"/>
<line x1="127.30" y1="90.40" x2="137.80" y2="90.40" stroke="#4a4a4a" stroke-width="1"/>
<line x1="214.28" y1="181.70" x2="214.28" y2="183.70" stroke="#555" stroke-width="1"/>
<rect x="173.63" y="71.30" width="19.90" height="110.40" fill="#ffffff" stroke="#4a4a4a" stroke-width="1"/>
<line x1="183.58" y1="56.50" x2="183.58" y2="70.80" stroke="#4a4a4a" stroke-width="1"/>
<line x1="178.33" y1="56.50" x2="188.83" y2="56.50" stroke="#4a4a4a" stroke-width="1"/>
<rect x="204.33" y="111.70" width="19.90" height="70.00" fill="#cccccc" stroke="#4a4a4a" stroke-width="1"/>
<line x1="214.28" y1="106.30" x2="214.28" y2="111.20" stroke="#4a4a4a" stroke-width="1"/>
<line x1="209.03" y1="106.30" x2="219.53" y2="106.30" stroke="#4a4a4a" stroke-width="1"/>
<rect x="235.03" y="118.80" width="19.90" height="62.90" fill="#666666" stroke="#4a4a4a" stroke-width="1"/>
<line x1="244.98" y1="116.00" x2="244.98" y2="118.30" stroke="#4a4a4a" stroke-width="1"/>
<line x1="239.73" y1="116.00" x2="250.23" y2="116.00" stroke="#4a4a4a" stroke-width="1"/>
<line x1="326.71" y1="181.70" x2="326.71" y2="183.70" stroke="#555" stroke-width="1"/>
<rect x="286.06" y="151.70" width="19.90" height="30.00" fill="#ffffff" stroke="#4a4a4a" stroke-width="1"/>
<line x1="296.01" y1="149.60" x2="296.01" y2="151.20" stroke="#4a4a4a" stroke-width="1"/>
<line x1="290.76" y1="149.60" x2="301.26" y2="149.60" stroke="#4a4a4a" stroke-width="1"/>
<rect x="316.76" y="147.80" width="19.90" height="33.90" fill="#cccccc" stroke="#4a4a4a" stroke-width="1"/>
<line x1="326.71" y1="143.80" x2="326.71" y2="147.30" stroke="#4a4a4a" stroke-width="1"/>
<line x1="321.46" y1="143.80" x2="331.96" y2="143.80" stroke="#4a4a4a" stroke-width="1"/>
<rect x="347.46" y="162.30" width="19.90" height="19.40" fill="#666666" stroke="#4a4a4a" stroke-width="1"/>
<line x1="357.41" y1="155.80" x2="357.41" y2="161.80" stroke="#4a4a4a" stroke-width="1"/>
<line x1="352.16" y1="155.80" x2="362.66" y2="155.80" stroke="#4a4a4a" stroke-width="1"/>
<line x1="439.14" y1="181.70" x2="439.14" y2="183.70" stroke="#555" stroke-width="1"/>
<rect x="398.49" y="135.10" width="19.90" height="46.60" fill="#ffffff" stroke="#4a4a4a" stroke-width="1"/>
<line x1="408.44" y1="127.90" x2="408.44" y2="134.60" stroke="#4a4a4a" stroke-width="1"/>
<line x1="403.19" y1="127.90" x2="413.69" y2="127.90" stroke="#4a4a4a" stroke-width="1"/>
<rect x="429.19" y="163.70" width="19.90" height="18.00" fill="#cccccc" stroke="#4a4a4a" stroke-width="1"/>
<line x1="439.14" y1="159.50" x2="439.14" y2="163.20" stroke="#4a4a4a" stroke-width="1"/>
<line x1="433.89" y1="159.50" x2="444.39" y2="159.50" stroke="#4a4a4a" stroke-width="1"/>
<rect x="459.89" y="152.90" width="19.90" height="28.80" fill="#666666" stroke="#4a4a4a" stroke-width="1"/>
<line x1="469.84" y1="147.50" x2="469.84" y2="152.40" stroke="#4a4a4a" stroke-width="1"/>
<line x1="464.59" y1="147.50" x2="475.09" y2="147.50" stroke="#4a4a4a" stroke-width="1"/>
<text transform="translate(95.79,190.00) scale(1.1247718291206472,1)" x="0" y="0" font-size="7.79" font-weight="bold" font-style="italic" fill="#1a1a1a" textLength="10.71" lengthAdjust="spacing">Ctl</text>
<text transform="translate(199.31,190.00) scale(1.2432002610410082,1)" x="0" y="0" font-size="7.79" font-weight="bold" font-style="italic" fill="#1a1a1a" textLength="23.66" lengthAdjust="spacing">BCL-2</text>
<text transform="translate(310.83,190.00) scale(1.2253199621532747,1)" x="0" y="0" font-size="7.79" font-weight="bold" font-style="italic" fill="#1a1a1a" textLength="24.55" lengthAdjust="spacing">MCL-1</text>
<text transform="translate(424.55,190.00) scale(1.2333608973604981,1)" x="0" y="0" font-size="7.79" font-weight="bold" font-style="italic" fill="#1a1a1a" textLength="22.76" lengthAdjust="spacing">BFL-1</text>
<rect x="411.60" y="21.60" width="12.80" height="3.60" fill="#ffffff" stroke="#444" stroke-width="1"/>
<text transform="translate(432.24,26.00) scale(1.1667141374728638,1)" x="0" y="0" font-size="8.24" font-weight="normal" font-style="normal" fill="#1a1a1a" stroke="#1a1a1a" stroke-width="0.35" textLength="23.59" lengthAdjust="spacing">Mec-1</text>
<rect x="411.60" y="32.30" width="12.80" height="3.70" fill="#cccccc" stroke="#444" stroke-width="1"/>
<text transform="translate(432.22,36.00) scale(1.1942400554222876,1)" x="0" y="0" font-size="8.53" font-weight="normal" font-style="normal" fill="#1a1a1a" stroke="#1a1a1a" stroke-width="0.35" textLength="24.43" lengthAdjust="spacing">Mec-2</text>
<rect x="411.60" y="43.10" width="12.80" height="4.10" fill="#666666" stroke="#444" stroke-width="1"/>
<text transform="translate(432.28,47.00) scale(1.1734466541080952,1)" x="0" y="0" font-size="8.09" font-weight="normal" font-style="normal" fill="#1a1a1a" stroke="#1a1a1a" stroke-width="0.35" textLength="15.60" lengthAdjust="spacing">PTA</text>
<line x1="45.35" y1="229.50" x2="45.35" y2="394.90" stroke="#555" stroke-width="1.2"/>
<line x1="41.85" y1="394.40" x2="45.35" y2="394.40" stroke="#555" stroke-width="1"/>
<text transform="translate(35.40,396.00) scale(1.3,1)" x="0" y="0" font-size="6.76" font-weight="normal" font-style="normal" fill="#1a1a1a" stroke="#1a1a1a" stroke-width="0.12" textLength="3.90" lengthAdjust="spacing">0</text>
<line x1="41.85" y1="311.95" x2="45.35" y2="311.95" stroke="#555" stroke-width="1"/>
<text transform="translate(30.96,314.00) scale(1.2101151723352197,1)" x="0" y="0" font-size="6.76" font-weight="normal" font-style="normal" fill="#1a1a1a" stroke="#1a1a1a" stroke-width="0.12" textLength="7.76" lengthAdjust="spacing">50</text>
<line x1="41.85" y1="229.50" x2="45.35" y2="229.50" stroke="#555" stroke-width="1"/>
<text transform="translate(26.11,232.00) scale(1.2238604264922375,1)" x="0" y="0" font-size="6.76" font-weight="normal" font-style="normal" fill="#1a1a1a" stroke="#1a1a1a" stroke-width="0.12" textLength="11.63" lengthAdjust="spacing">100</text>
<line x1="45.35" y1="394.40" x2="498.40" y2="394.40" stroke="#555" stroke-width="1"/>
<text transform="translate(25.00,334.49) rotate(-90)" x="0" y="0" font-size="11.62" font-weight="bold" fill="#1a1a1a" stroke="#1a1a1a" stroke-width="0.3" textLength="44.71" lengthAdjust="spacingAndGlyphs">% cell viability</text>
<line x1="101.95" y1="394.40" x2="101.95" y2="396.40" stroke="#555" stroke-width="1"/>
<rect x="60.95" y="239.90" width="20.00" height="154.50" fill="#ffffff" stroke="#4a4a4a" stroke-width="1"/>
<line x1="70.95" y1="236.20" x2="70.95" y2="239.40" stroke="#4a4a4a" stroke-width="1"/>
<line x1="65.80" y1="236.20" x2="76.10" y2="236.20" stroke="#4a4a4a" stroke-width="1"/>
<rect x="91.95" y="234.90" width="20.00" height="159.50" fill="#cccccc" stroke="#4a4a4a" stroke-width="1"/>
<line x1="101.95" y1="232.30" x2="101.95" y2="234.40" stroke="#4a4a4a" stroke-width="1"/>
<line x1="96.80" y1="232.30" x2="107.10" y2="232.30" stroke="#4a4a4a" stroke-width="1"/>
<rect x="122.95" y="236.70" width="20.00" height="157.70" fill="#666666" stroke="#4a4a4a" stroke-width="1"/>
<line x1="132.95" y1="234.40" x2="132.95" y2="236.20" stroke="#4a4a4a" stroke-width="1"/>
<line x1="127.80" y1="234.40" x2="138.10" y2="234.40" stroke="#4a4a4a" stroke-width="1"/>
<line x1="215.50" y1="394.40" x2="215.50" y2="396.40" stroke="#555" stroke-width="1"/>
<rect x="174.50" y="251.70" width="20.00" height="142.70" fill="#ffffff" stroke="#4a4a4a" stroke-width="1"/>
<line x1="184.50" y1="249.60" x2="184.50" y2="251.20" stroke="#4a4a4a" stroke-width="1"/>
<line x1="179.35" y1="249.60" x2="189.65" y2="249.60" stroke="#4a4a4a" stroke-width="1"/>
<rect x="205.50" y="254.70" width="20.00" height="139.70" fill="#cccccc" stroke="#4a4a4a" stroke-width="1"/>
<line x1="215.50" y1="252.60" x2="215.50" y2="254.20" stroke="#4a4a4a" stroke-width="1"/>
<line x1="210.35" y1="252.60" x2="220.65" y2="252.60" stroke="#4a4a4a" stroke-width="1"/>
<rect x="236.50" y="261.70" width="20.00" height="132.70" fill="#666666" stroke="#4a4a4a" stroke-width="1"/>
<line x1="246.50" y1="257.50" x2="246.50" y2="261.20" stroke="#4a4a4a" stroke-width="1"/>
<line x1="241.35" y1="257.50" x2="251.65" y2="257.50" stroke="#4a4a4a" stroke-width="1"/>
<line x1="329.05" y1="394.40" x2="329.05" y2="396.40" stroke="#555" stroke-width="1"/>
<rect x="288.05" y="241.90" width="20.00" height="152.50" fill="#ffffff" stroke="#4a4a4a" stroke-width="1"/>
<line x1="298.05" y1="238.60" x2="298.05" y2="241.40" stroke="#4a4a4a" stroke-width="1"/>
<line x1="292.90" y1="238.60" x2="303.20" y2="238.60" stroke="#4a4a4a" stroke-width="1"/>
<rect x="319.05" y="246.90" width="20.00" height="147.50" fill="#cccccc" stroke="#4a4a4a" stroke-width="1"/>
<line x1="329.05" y1="243.40" x2="329.05" y2="246.40" stroke="#4a4a4a" stroke-width="1"/>
<line x1="323.90" y1="243.40" x2="334.20" y2="243.40" stroke="#4a4a4a" stroke-width="1"/>
<rect x="350.05" y="248.70" width="20.00" height="145.70" fill="#666666" stroke="#4a4a4a" stroke-width="1"/>
<line x1="360.05" y1="238.10" x2="360.05" y2="248.20" stroke="#4a4a4a" stroke-width="1"/>
<line x1="354.90" y1="238.10" x2="365.20" y2="238.10" stroke="#4a4a4a" stroke-width="1"/>
<line x1="442.60" y1="394.40" x2="442.60" y2="396.40" stroke="#555" stroke-width="1"/>
<rect x="401.60" y="318.50" width="20.00" height="75.90" fill="#ffffff" stroke="#4a4a4a" stroke-width="1"/>
<line x1="411.60" y1="311.40" x2="411.60" y2="318.00" stroke="#4a4a4a" stroke-width="1"/>
<line x1="406.45" y1="311.40" x2="416.75" y2="311.40" stroke="#4a4a4a" stroke-width="1"/>
<rect x="432.60" y="323.00" width="20.00" height="71.40" fill="#cccccc" stroke="#4a4a4a" stroke-width="1"/>
<line x1="442.60" y1="309.40" x2="442.60" y2="322.50" stroke="#4a4a4a" stroke-width="1"/>
<line x1="437.45" y1="309.40" x2="447.75" y2="309.40" stroke="#4a4a4a" stroke-width="1"/>
<rect x="463.60" y="337.20" width="20.00" height="57.20" fill="#666666" stroke="#4a4a4a" stroke-width="1"/>
<line x1="473.60" y1="326.30" x2="473.60" y2="336.70" stroke="#4a4a4a" stroke-width="1"/>
<line x1="468.45" y1="326.30" x2="478.75" y2="326.30" stroke="#4a4a4a" stroke-width="1"/>
<text transform="translate(87.04,404.00) scale(1.284340341459083,1)" x="0" y="0" font-size="7.50" font-weight="bold" font-style="normal" fill="#1a1a1a" textLength="23.20" lengthAdjust="spacing">DMSO</text>
<text transform="translate(203.09,404.00) scale(1.2063806370638757,1)" x="0" y="0" font-size="7.50" font-weight="bold" font-style="normal" fill="#1a1a1a" textLength="20.19" lengthAdjust="spacing">Flavo</text>
<text transform="translate(309.08,404.00) scale(1.25950669170468,1)" x="0" y="0" font-size="7.50" font-weight="bold" font-style="normal" fill="#1a1a1a" textLength="30.94" lengthAdjust="spacing">ABT-737</text>
<text transform="translate(404.02,404.00) scale(1.2714292205431312,1)" x="0" y="0" font-size="7.50" font-weight="bold" font-style="normal" fill="#1a1a1a" textLength="59.94" lengthAdjust="spacing">ABT-737 + Flavo</text>
<line x1="291.50" y1="223.90" x2="486.50" y2="223.90" stroke="#555" stroke-width="1"/>
<line x1="291.50" y1="221.50" x2="291.50" y2="226.50" stroke="#555" stroke-width="1"/>
<line x1="486.50" y1="221.50" x2="486.50" y2="226.50" stroke="#555" stroke-width="1"/>
<text transform="translate(372.54,221.00) scale(1.3,1)" x="0" y="0" font-size="6.47" font-weight="normal" font-style="normal" fill="#1a1a1a" stroke="#1a1a1a" stroke-width="0.08" textLength="28.76" lengthAdjust="spacing"><tspan font-style="italic">P</tspan> &lt; 0.001</text>
<rect x="442.60" y="268.40" width="14.30" height="3.90" fill="#ffffff" stroke="#444" stroke-width="1"/>
<text transform="translate(464.04,273.00) scale(1.1429430510156031,1)" x="0" y="0" font-size="7.65" font-weight="bold" font-style="normal" fill="#1a1a1a" stroke="#1a1a1a" stroke-width="0.1" textLength="22.34" lengthAdjust="spacing">Mec-1</text>
<rect x="442.60" y="279.70" width="14.30" height="3.90" fill="#cccccc" stroke="#444" stroke-width="1"/>
<text transform="translate(463.96,284.00) scale(1.1660962039658576,1)" x="0" y="0" font-size="7.94" font-weight="bold" font-style="normal" fill="#1a1a1a" stroke="#1a1a1a" stroke-width="0.1" textLength="23.20" lengthAdjust="spacing">Mec-2</text>
<rect x="442.60" y="291.00" width="14.30" height="3.30" fill="#666666" stroke="#444" stroke-width="1"/>
<text transform="translate(464.99,295.00) scale(1.2941015260013036,1)" x="0" y="0" font-size="7.21" font-weight="bold" font-style="normal" fill="#1a1a1a" stroke="#1a1a1a" stroke-width="0.1" textLength="14.31" lengthAdjust="spacing">PTA</text>
<line x1="43.45" y1="434.40" x2="43.45" y2="602.70" stroke="#555" stroke-width="1.2"/>
<line x1="39.75" y1="602.20" x2="43.45" y2="602.20" stroke="#555" stroke-width="1"/>
<text transform="translate(25.88,605.00) scale(1.1440077684787517,1)" x="0" y="0" font-size="7.35" font-weight="normal" font-style="normal" fill="#1a1a1a" stroke="#1a1a1a" stroke-width="0.3" textLength="10.54" lengthAdjust="spacing">0.0</text>
<line x1="39.75" y1="560.25" x2="43.45" y2="560.25" stroke="#555" stroke-width="1"/>
<text transform="translate(25.86,563.00) scale(1.158097668483546,1)" x="0" y="0" font-size="7.35" font-weight="normal" font-style="normal" fill="#1a1a1a" stroke="#1a1a1a" stroke-width="0.3" textLength="10.54" lengthAdjust="spacing">0.5</text>
<line x1="39.75" y1="518.30" x2="43.45" y2="518.30" stroke="#555" stroke-width="1"/>
<text transform="translate(25.43,521.00) scale(1.1932063435191795,1)" x="0" y="0" font-size="7.35" font-weight="normal" font-style="normal" fill="#1a1a1a" stroke="#1a1a1a" stroke-width="0.3" textLength="10.54" lengthAdjust="spacing">1.0</text>
<line x1="39.75" y1="476.35" x2="43.45" y2="476.35" stroke="#555" stroke-width="1"/>
<text transform="translate(25.42,479.00) scale(1.2009247286086981,1)" x="0" y="0" font-size="7.35" font-weight="normal" font-style="normal" fill="#1a1a1a" stroke="#1a1a1a" stroke-width="0.3" textLength="10.54" lengthAdjust="spacing">1.5</text>
<line x1="39.75" y1="434.40" x2="43.45" y2="434.40" stroke="#555" stroke-width="1"/>
<text transform="translate(25.88,437.00) scale(1.1405157109559187,1)" x="0" y="0" font-size="7.35" font-weight="normal" font-style="normal" fill="#1a1a1a" stroke="#1a1a1a" stroke-width="0.3" textLength="10.54" lengthAdjust="spacing">2.0</text>
<line x1="43.45" y1="602.20" x2="511.50" y2="602.20" stroke="#555" stroke-width="1"/>
<text transform="translate(24.30,558.54) rotate(-90)" x="0" y="0" font-size="10.41" font-weight="normal" fill="#1a1a1a" stroke="#1a1a1a" stroke-width="0.35" textLength="80.55" lengthAdjust="spacingAndGlyphs">fold change in expression</text>
<line x1="101.85" y1="602.20" x2="101.85" y2="604.20" stroke="#555" stroke-width="1"/>
<rect x="59.65" y="518.80" width="20.40" height="83.40" fill="#ffffff" stroke="#4a4a4a" stroke-width="1"/>
<line x1="69.85" y1="514.40" x2="69.85" y2="518.30" stroke="#4a4a4a" stroke-width="1"/>
<line x1="64.20" y1="514.40" x2="75.50" y2="514.40" stroke="#4a4a4a" stroke-width="1"/>
<rect x="91.65" y="518.80" width="20.40" height="83.40" fill="#cccccc" stroke="#4a4a4a" stroke-width="1"/>
<line x1="101.85" y1="516.30" x2="101.85" y2="518.30" stroke="#4a4a4a" stroke-width="1"/>
<line x1="96.20" y1="516.30" x2="107.50" y2="516.30" stroke="#4a4a4a" stroke-width="1"/>
<rect x="123.65" y="518.80" width="20.40" height="83.40" fill="#666666" stroke="#4a4a4a" stroke-width="1"/>
<line x1="133.85" y1="513.50" x2="133.85" y2="518.30" stroke="#4a4a4a" stroke-width="1"/>
<line x1="128.20" y1="513.50" x2="139.50" y2="513.50" stroke="#4a4a4a" stroke-width="1"/>
<line x1="219.10" y1="602.20" x2="219.10" y2="604.20" stroke="#555" stroke-width="1"/>
<rect x="176.90" y="476.70" width="20.40" height="125.50" fill="#ffffff" stroke="#4a4a4a" stroke-width="1"/>
<line x1="187.10" y1="472.00" x2="187.10" y2="476.20" stroke="#4a4a4a" stroke-width="1"/>
<line x1="181.45" y1="472.00" x2="192.75" y2="472.00" stroke="#4a4a4a" stroke-width="1"/>
<rect x="208.90" y="497.70" width="20.40" height="104.50" fill="#cccccc" stroke="#4a4a4a" stroke-width="1"/>
<line x1="219.10" y1="488.80" x2="219.10" y2="497.20" stroke="#4a4a4a" stroke-width="1"/>
<line x1="213.45" y1="488.80" x2="224.75" y2="488.80" stroke="#4a4a4a" stroke-width="1"/>
<rect x="240.90" y="493.70" width="20.40" height="108.50" fill="#666666" stroke="#4a4a4a" stroke-width="1"/>
<line x1="251.10" y1="490.50" x2="251.10" y2="493.20" stroke="#4a4a4a" stroke-width="1"/>
<line x1="245.45" y1="490.50" x2="256.75" y2="490.50" stroke="#4a4a4a" stroke-width="1"/>
<line x1="336.35" y1="602.20" x2="336.35" y2="604.20" stroke="#555" stroke-width="1"/>
<rect x="294.15" y="512.80" width="20.40" height="89.40" fill="#ffffff" stroke="#4a4a4a" stroke-width="1"/>
<line x1="304.35" y1="506.30" x2="304.35" y2="512.30" stroke="#4a4a4a" stroke-width="1"/>
<line x1="298.70" y1="506.30" x2="310.00" y2="506.30" stroke="#4a4a4a" stroke-width="1"/>
<rect x="326.15" y="500.10" width="20.40" height="102.10" fill="#cccccc" stroke="#4a4a4a" stroke-width="1"/>
<line x1="336.35" y1="496.60" x2="336.35" y2="499.60" stroke="#4a4a4a" stroke-width="1"/>
<line x1="330.70" y1="496.60" x2="342.00" y2="496.60" stroke="#4a4a4a" stroke-width="1"/>
<rect x="358.15" y="552.70" width="20.40" height="49.50" fill="#666666" stroke="#4a4a4a" stroke-width="1"/>
<line x1="368.35" y1="548.50" x2="368.35" y2="552.20" stroke="#4a4a4a" stroke-width="1"/>
<line x1="362.70" y1="548.50" x2="374.00" y2="548.50" stroke="#4a4a4a" stroke-width="1"/>
<line x1="453.60" y1="602.20" x2="453.60" y2="604.20" stroke="#555" stroke-width="1"/>
<rect x="411.40" y="520.20" width="20.40" height="82.00" fill="#ffffff" stroke="#4a4a4a" stroke-width="1"/>
<line x1="421.60" y1="518.30" x2="421.60" y2="519.70" stroke="#4a4a4a" stroke-width="1"/>
<line x1="415.95" y1="518.30" x2="427.25" y2="518.30" stroke="#4a4a4a" stroke-width="1"/>
<rect x="443.40" y="558.00" width="20.40" height="44.20" fill="#cccccc" stroke="#4a4a4a" stroke-width="1"/>
<line x1="453.60" y1="554.80" x2="453.60" y2="557.50" stroke="#4a4a4a" stroke-width="1"/>
<line x1="447.95" y1="554.80" x2="459.25" y2="554.80" stroke="#4a4a4a" stroke-width="1"/>
<rect x="475.40" y="514.20" width="20.40" height="88.00" fill="#666666" stroke="#4a4a4a" stroke-width="1"/>
<line x1="485.60" y1="512.30" x2="485.60" y2="513.70" stroke="#4a4a4a" stroke-width="1"/>
<line x1="479.95" y1="512.30" x2="491.25" y2="512.30" stroke="#4a4a4a" stroke-width="1"/>
<text transform="translate(86.58,610.00) scale(1.4290039630961064,1)" x="0" y="0" font-size="7.06" font-weight="normal" font-style="normal" fill="#1a1a1a" stroke="#1a1a1a" stroke-width="0.3" textLength="20.22" lengthAdjust="spacing">Mec-1</text>
<text transform="translate(207.93,610.00) scale(1.4407370685405239,1)" x="0" y="0" font-size="7.35" font-weight="normal" font-style="normal" fill="#1a1a1a" stroke="#1a1a1a" stroke-width="0.3" textLength="15.59" lengthAdjust="spacing">shctl</text>
<text transform="translate(315.45,610.00) scale(1.5,1)" x="0" y="0" font-size="6.76" font-weight="normal" font-style="normal" fill="#1a1a1a" stroke="#1a1a1a" stroke-width="0.3" textLength="27.00" lengthAdjust="spacing">shBFL-1</text>
<text transform="translate(431.45,610.00) scale(1.4960327414465466,1)" x="0" y="0" font-size="6.76" font-weight="normal" font-style="normal" fill="#1a1a1a" stroke="#1a1a1a" stroke-width="0.3" textLength="28.29" lengthAdjust="spacing">shMCL-1</text>
<rect x="447.40" y="446.70" width="13.90" height="4.30" fill="#ffffff" stroke="#444" stroke-width="1"/>
<text transform="translate(469.19,451.00) scale(1.3650637400047045,1)" x="0" y="0" font-size="7.65" font-weight="normal" font-style="italic" fill="#1a1a1a" stroke="#1a1a1a" stroke-width="0.3" textLength="22.34" lengthAdjust="spacing">BCL-2</text>
<rect x="447.40" y="457.40" width="13.90" height="4.70" fill="#cccccc" stroke="#444" stroke-width="1"/>
<text transform="translate(469.20,462.00) scale(1.3765759746017707,1)" x="0" y="0" font-size="7.65" font-weight="normal" font-style="italic" fill="#1a1a1a" stroke="#1a1a1a" stroke-width="0.3" textLength="23.65" lengthAdjust="spacing">MCL-1</text>
<rect x="447.40" y="468.20" width="13.90" height="4.70" fill="#666666" stroke="#444" stroke-width="1"/>
<text transform="translate(469.24,473.00) scale(1.344108059514823,1)" x="0" y="0" font-size="7.65" font-weight="normal" font-style="italic" fill="#1a1a1a" stroke="#1a1a1a" stroke-width="0.3" textLength="21.47" lengthAdjust="spacing">BFL-1</text>
<line x1="41.70" y1="652.40" x2="41.70" y2="813.70" stroke="#555" stroke-width="1.2"/>
<line x1="38.20" y1="813.20" x2="41.70" y2="813.20" stroke="#555" stroke-width="1"/>
<text transform="translate(31.65,815.00) scale(1.25,1)" x="0" y="0" font-size="7.28" font-weight="normal" font-style="normal" fill="#1a1a1a" stroke="#1a1a1a" stroke-width="0.3" textLength="6.62" lengthAdjust="spacing">0</text>
<line x1="38.20" y1="732.80" x2="41.70" y2="732.80" stroke="#555" stroke-width="1"/>
<text transform="translate(25.93,735.00) scale(1.2157799153596716,1)" x="0" y="0" font-size="7.28" font-weight="normal" font-style="normal" fill="#1a1a1a" stroke="#1a1a1a" stroke-width="0.3" textLength="8.35" lengthAdjust="spacing">50</text>
<line x1="38.20" y1="652.40" x2="41.70" y2="652.40" stroke="#555" stroke-width="1"/>
<text transform="translate(21.46,655.00) scale(1.25,1)" x="0" y="0" font-size="7.28" font-weight="normal" font-style="normal" fill="#1a1a1a" stroke="#1a1a1a" stroke-width="0.3" textLength="12.66" lengthAdjust="spacing">100</text>
<line x1="41.70" y1="813.20" x2="508.50" y2="813.20" stroke="#555" stroke-width="1"/>
<text transform="translate(23.60,753.39) rotate(-90)" x="0" y="0" font-size="11.76" font-weight="bold" fill="#1a1a1a" stroke="#1a1a1a" stroke-width="0.3" textLength="41.50" lengthAdjust="spacingAndGlyphs">% cell viability</text>
<line x1="158.30" y1="813.20" x2="158.30" y2="815.20" stroke="#555" stroke-width="1"/>
<rect x="66.90" y="660.60" width="32.90" height="152.50" fill="#ffffff" stroke="#555" stroke-width="1.2"/>
<line x1="83.35" y1="657.30" x2="83.35" y2="660.00" stroke="#555" stroke-width="1.2"/>
<line x1="75.35" y1="657.30" x2="91.35" y2="657.30" stroke="#555" stroke-width="1.2"/>
<rect x="117.30" y="659.30" width="32.50" height="153.80" fill="#cccccc" stroke="#555" stroke-width="1.2"/>
<line x1="133.55" y1="656.30" x2="133.55" y2="658.70" stroke="#555" stroke-width="1.2"/>
<line x1="125.55" y1="656.30" x2="141.55" y2="656.30" stroke="#555" stroke-width="1.2"/>
<rect x="166.90" y="660.70" width="32.60" height="152.40" fill="#4a4a4a" stroke="#555" stroke-width="1.2"/>
<line x1="183.20" y1="656.10" x2="183.20" y2="660.10" stroke="#555" stroke-width="1.2"/>
<line x1="175.20" y1="656.10" x2="191.20" y2="656.10" stroke="#555" stroke-width="1.2"/>
<rect x="217.40" y="655.60" width="31.90" height="157.50" fill="#262626" stroke="#555" stroke-width="1.2"/>
<line x1="233.35" y1="652.70" x2="233.35" y2="655.00" stroke="#555" stroke-width="1.2"/>
<line x1="225.35" y1="652.70" x2="241.35" y2="652.70" stroke="#555" stroke-width="1.2"/>
<line x1="391.80" y1="813.20" x2="391.80" y2="815.20" stroke="#555" stroke-width="1"/>
<rect x="301.20" y="676.80" width="31.90" height="136.30" fill="#ffffff" stroke="#555" stroke-width="1.2"/>
<line x1="317.15" y1="672.30" x2="317.15" y2="676.20" stroke="#555" stroke-width="1.2"/>
<line x1="309.15" y1="672.30" x2="325.15" y2="672.30" stroke="#555" stroke-width="1.2"/>
<rect x="350.20" y="673.90" width="32.60" height="139.20" fill="#cccccc" stroke="#555" stroke-width="1.2"/>
<line x1="366.50" y1="669.60" x2="366.50" y2="673.30" stroke="#555" stroke-width="1.2"/>
<line x1="358.50" y1="669.60" x2="374.50" y2="669.60" stroke="#555" stroke-width="1.2"/>
<rect x="400.60" y="733.10" width="32.55" height="80.00" fill="#4a4a4a" stroke="#555" stroke-width="1.2"/>
<line x1="416.88" y1="729.50" x2="416.88" y2="732.50" stroke="#555" stroke-width="1.2"/>
<line x1="408.88" y1="729.50" x2="424.88" y2="729.50" stroke="#555" stroke-width="1.2"/>
<rect x="450.60" y="728.35" width="31.80" height="84.75" fill="#262626" stroke="#555" stroke-width="1.2"/>
<line x1="466.50" y1="723.25" x2="466.50" y2="727.75" stroke="#555" stroke-width="1.2"/>
<line x1="458.50" y1="723.25" x2="474.50" y2="723.25" stroke="#555" stroke-width="1.2"/>
<text transform="translate(142.13,822.00) scale(1.4761045100168997,1)" x="0" y="0" font-size="6.91" font-weight="normal" font-style="normal" fill="#1a1a1a" stroke="#1a1a1a" stroke-width="0.3" textLength="21.38" lengthAdjust="spacing">DMSO</text>
<text transform="translate(370.79,822.00) scale(1.3946498699652912,1)" x="0" y="0" font-size="7.50" font-weight="normal" font-style="normal" fill="#1a1a1a" stroke="#1a1a1a" stroke-width="0.3" textLength="30.08" lengthAdjust="spacing">ABT-737</text>
<line x1="301.50" y1="666.70" x2="477.30" y2="666.70" stroke="#555" stroke-width="1"/>
<line x1="301.50" y1="664.50" x2="301.50" y2="669.00" stroke="#555" stroke-width="1"/>
<line x1="477.30" y1="664.30" x2="477.30" y2="669.00" stroke="#555" stroke-width="1"/>
<text transform="translate(374.08,664.00) scale(1.4367899286385726,1)" x="0" y="0" font-size="7.35" font-weight="normal" font-style="normal" fill="#1a1a1a" stroke="#1a1a1a" stroke-width="0.2" textLength="28.31" lengthAdjust="spacing"><tspan font-style="italic">P</tspan> &lt; 0.01</text>
<rect x="444.80" y="683.20" width="14.40" height="3.30" fill="#ffffff" stroke="#444" stroke-width="1"/>
<text transform="translate(467.27,686.00) scale(1.3372461142270071,1)" x="0" y="0" font-size="7.35" font-weight="normal" font-style="normal" fill="#1a1a1a" stroke="#1a1a1a" stroke-width="0.2" textLength="21.06" lengthAdjust="spacing">Mec-1</text>
<rect x="444.80" y="693.20" width="14.40" height="2.80" fill="#cccccc" stroke="#444" stroke-width="1"/>
<text transform="translate(467.42,696.00) scale(1.3997452604667515,1)" x="0" y="0" font-size="7.21" font-weight="normal" font-style="normal" fill="#1a1a1a" stroke="#1a1a1a" stroke-width="0.2" textLength="16.92" lengthAdjust="spacing">shCtl</text>
<rect x="444.80" y="702.00" width="14.40" height="4.00" fill="#4a4a4a" stroke="#444" stroke-width="1"/>
<text transform="translate(467.34,706.00) scale(1.4554359738420333,1)" x="0" y="0" font-size="7.06" font-weight="normal" font-style="normal" fill="#1a1a1a" stroke="#1a1a1a" stroke-width="0.2" textLength="29.52" lengthAdjust="spacing">sh<tspan font-style="italic">MCL-1</tspan></text>
<rect x="444.80" y="710.90" width="14.40" height="3.90" fill="#262626" stroke="#444" stroke-width="1"/>
<text transform="translate(467.32,714.00) scale(1.4878218791897742,1)" x="0" y="0" font-size="7.06" font-weight="normal" font-style="normal" fill="#1a1a1a" stroke="#1a1a1a" stroke-width="0.2" textLength="27.50" lengthAdjust="spacing">sh<tspan font-style="italic">BFL-1</tspan></text>
</g>
<text x="4.87" y="13.00" font-size="14.25" font-weight="bold" font-style="normal" fill="#000" stroke="#000" stroke-width="0.3" textLength="11.04" lengthAdjust="spacingAndGlyphs">A</text>
<text x="3.14" y="236.00" font-size="15.77" font-weight="bold" font-style="normal" fill="#000" stroke="#000" stroke-width="0.3" textLength="10.53" lengthAdjust="spacingAndGlyphs">B</text>
<text x="4.44" y="439.00" font-size="14.79" font-weight="bold" font-style="normal" fill="#000" stroke="#000" stroke-width="0.2" textLength="9.81" lengthAdjust="spacingAndGlyphs">C</text>
<text x="3.25" y="658.00" font-size="14.52" font-weight="bold" font-style="normal" fill="#000" stroke="#000" stroke-width="0.3" textLength="10.82" lengthAdjust="spacingAndGlyphs">D</text>
</svg>
</body></html>
